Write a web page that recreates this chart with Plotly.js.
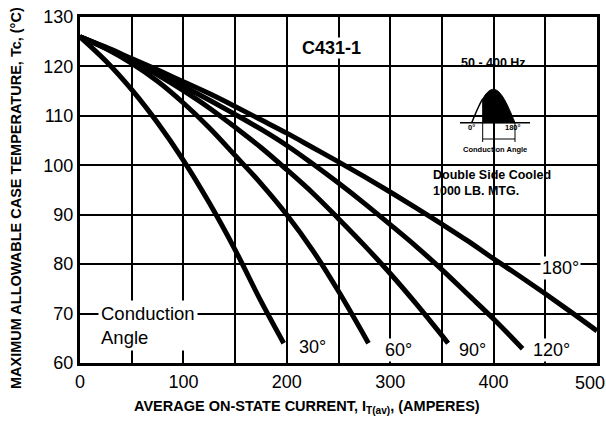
<!DOCTYPE html>
<html>
<head>
<meta charset="utf-8">
<script src="https://cdn.plot.ly/plotly-3.0.1.min.js"></script>
<style>html,body{margin:0;padding:0;background:#fff;}#chart{width:606px;height:422px;}</style>
</head>
<body>
<div id="chart"></div>
<script>
// ---- data ----
const current30 = [0, 25, 50, 75, 100, 125, 150, 175, 197];
const temp30    = [126, 121.1, 115.3, 108.6, 101.0, 92.4, 82.9, 72.5, 64.0];

const current60 = [0, 25, 50, 75, 100, 125, 150, 175, 200, 225, 250, 279];
const temp60    = [126, 123.6, 120.6, 117.0, 112.6, 107.6, 102.0, 96.3, 90.0, 82.8, 74.5, 64.0];

const current90 = [0, 25, 50, 75, 100, 125, 150, 175, 200, 225, 250, 275, 300, 325, 356];
const temp90    = [126, 123.7, 121.2, 118.3, 115.1, 111.6, 107.7, 103.6, 99.1, 94.4, 89.2, 83.8, 78.1, 72.0, 64.0];

const current120 = [0, 25, 50, 75, 100, 125, 150, 175, 200, 225, 250, 275, 300, 325, 350, 375, 400, 428];
const temp120    = [126, 123.8, 121.3, 118.7, 116.0, 113.2, 110.3, 107.3, 104.0, 100.3, 96.4, 92.3, 88.0, 83.6, 78.9, 73.9, 68.9, 62.9];

const current180 = [0, 25, 50, 75, 100, 125, 150, 175, 200, 225, 250, 275, 300, 325, 350, 375, 400, 425, 450, 475, 500];
const temp180    = [126, 123.9, 121.6, 119.3, 116.9, 114.5, 111.9, 109.2, 106.5, 103.6, 100.7, 97.7, 94.6, 91.4, 88.1, 84.7, 81.1, 77.6, 74.0, 70.3, 66.5];

const curveNames = ['30°', '60°', '90°', '120°', '180°'];
const curveLabelPos = [[225, 63.3], [308, 62.6], [380, 62.6], [456, 62.6], [465, 79.3]];

const xTickVals = [0, 100, 200, 300, 400];
const xTickText = ['0', '100', '200', '300', '400'];
const xLastTick = '500';
const yTickVals = [60, 70, 80, 90, 100, 110, 120, 130];
const yTickText = ['60', '70', '80', '90', '100', '110', '120', '130'];

// ---- layout helpers ----
const W = 606, H = 422, ML = 80, MR = 9, MT = 17, MB = 59;
const PW = W - ML - MR, PH = H - MT - MB;
const px = x => (x - ML) / PW;           // pixel -> paper
const py = y => (H - MB - y) / PH;

const FONT = '"Liberation Sans", Arial, Helvetica, sans-serif';

const series = [
  [current30, temp30], [current60, temp60], [current90, temp90],
  [current120, temp120], [current180, temp180]
];
const traces = series.map((s, i) => ({
  x: s[0], y: s[1], type: 'scatter', mode: 'lines', name: curveNames[i],
  line: {color: '#000', width: 5, shape: 'spline', smoothing: 1},
  hoverinfo: 'skip', showlegend: false
}));

// inset waveform icon (paper-coordinate path)
const x0 = 471.7, x1 = 515, yb = 122.7, amp = 33.4, xf = 482.7;
function sinPts(a, b, n) {
  const pts = [];
  for (let i = 0; i <= n; i++) {
    const xx = a + (b - a) * i / n;
    const th = Math.PI * (xx - x0) / (x1 - x0);
    pts.push([xx, yb - amp * Math.sin(th)]);
  }
  return pts;
}
const toPath = pts => pts.map((p, i) => (i ? 'L' : 'M') + px(p[0]).toFixed(5) + ',' + py(p[1]).toFixed(5)).join(' ');
const fillPts = sinPts(xf, x1, 40).concat([[x1, yb], [xf, yb]]);
const outlinePts = sinPts(x0, xf, 12);

const shapes = [
  // mask grid behind inset
  {type: 'rect', xref: 'x', yref: 'y', x0: 336, x1: 467.6, y0: 92.9, y1: 123.9,
   fillcolor: '#fff', line: {width: 0}, layer: 'below'},
  {type: 'path', xref: 'paper', yref: 'paper', path: toPath(fillPts) + ' Z', fillcolor: '#000', line: {color: '#000', width: 1}},
  {type: 'path', xref: 'paper', yref: 'paper', path: toPath(outlinePts), line: {color: '#000', width: 1.5}},
  {type: 'line', xref: 'paper', yref: 'paper', x0: px(460), x1: px(530), y0: py(yb), y1: py(yb), line: {color: '#000', width: 1.5}},
  {type: 'line', xref: 'paper', yref: 'paper', x0: px(xf), x1: px(xf), y0: py(yb), y1: py(142), line: {color: '#000', width: 1}},
  {type: 'line', xref: 'paper', yref: 'paper', x0: px(x1), x1: px(x1), y0: py(yb), y1: py(142), line: {color: '#000', width: 1}},
  {type: 'line', xref: 'paper', yref: 'paper', x0: px(xf), x1: px(x1), y0: py(139), y1: py(139), line: {color: '#000', width: 1}}
];

const ann = (o) => Object.assign({showarrow: false, xanchor: 'center', yanchor: 'middle',
  font: {family: FONT, size: 18, color: '#000'}}, o);
const annotations = [
  ann({text: '<b>C431-1</b>', x: 243, y: 123.7, xref: 'x', yref: 'y', font: {family: FONT, size: 18, color: '#000'}, bgcolor: '#fff', borderpad: 0}),
  ann({text: '<b>50 - 400 Hz</b>', x: px(493.3), y: py(62.7), xref: 'paper', yref: 'paper', font: {family: FONT, size: 12.5, color: '#000'}}),
  ann({text: '<b>0°</b>', x: px(471), y: py(127.5), xref: 'paper', yref: 'paper', font: {family: FONT, size: 7.5, color: '#000'}}),
  ann({text: '<b>180°</b>', x: px(513), y: py(127.5), xref: 'paper', yref: 'paper', font: {family: FONT, size: 7.5, color: '#000'}}),
  ann({text: '<b>Conduction Angle</b>', x: px(495), y: py(149.5), xref: 'paper', yref: 'paper', font: {family: FONT, size: 7.5, color: '#000'}}),
  ann({text: '<b>Double Side Cooled</b><br><b>1000 LB. MTG.</b>', x: px(431), y: py(182.5), xref: 'paper', yref: 'paper', xanchor: 'left', align: 'left', font: {family: FONT, size: 12.5, color: '#000'}}),
  ann({text: 'Conduction<br>Angle', x: px(98), y: py(325), xref: 'paper', yref: 'paper', xanchor: 'left', align: 'left', bgcolor: '#fff', borderpad: 2, font: {family: FONT, size: 18.5, color: '#000'}}),
  ann({text: xLastTick, x: 500, y: 60, xref: 'x', yref: 'y', xanchor: 'right', yanchor: 'top', xshift: 10, yshift: -8}),
  ann({text: '<b>AVERAGE ON-STATE CURRENT, I<sub>T(av)</sub>, (AMPERES)</b>', x: px(307), y: py(407), xref: 'paper', yref: 'paper', font: {family: FONT, size: 14.5, color: '#000'}}),
  ann({text: '<b>MAXIMUM ALLOWABLE CASE TEMPERATURE, Tc, (°C)</b>', x: px(16), y: py(198), xref: 'paper', yref: 'paper', textangle: -90, font: {family: FONT, size: 14.5, color: '#000'}})
].concat(curveNames.map((n, i) => ann({
  text: n, x: curveLabelPos[i][0], y: curveLabelPos[i][1], xref: 'x', yref: 'y',
  bgcolor: '#fff', borderpad: 1
})));

const layout = {
  width: W, height: H,
  margin: {l: ML, r: MR, t: MT, b: MB, pad: 0},
  paper_bgcolor: '#fff', plot_bgcolor: '#fff',
  showlegend: false,
  font: {family: FONT, size: 18, color: '#000'},
  xaxis: {
    range: [0, 500], tickvals: xTickVals, ticktext: xTickText,
    showgrid: true, gridcolor: '#000', gridwidth: 2,
    showline: true, linecolor: '#000', linewidth: 3, mirror: true,
    ticks: '', zeroline: false, fixedrange: true,
    tickfont: {family: FONT, size: 18, color: '#000'},
    minor: {dtick: 50, tick0: 0, showgrid: true, gridcolor: '#000', gridwidth: 2}
  },
  yaxis: {
    range: [60, 130], tickvals: yTickVals, ticktext: yTickText,
    showgrid: true, gridcolor: '#000', gridwidth: 2,
    showline: true, linecolor: '#000', linewidth: 3, mirror: true,
    ticks: '', zeroline: false, fixedrange: true,
    tickfont: {family: FONT, size: 18, color: '#000'}
  },
  shapes: shapes,
  annotations: annotations
};

Plotly.newPlot('chart', traces, layout, {staticPlot: true, displayModeBar: false});
</script>
</body>
</html>
